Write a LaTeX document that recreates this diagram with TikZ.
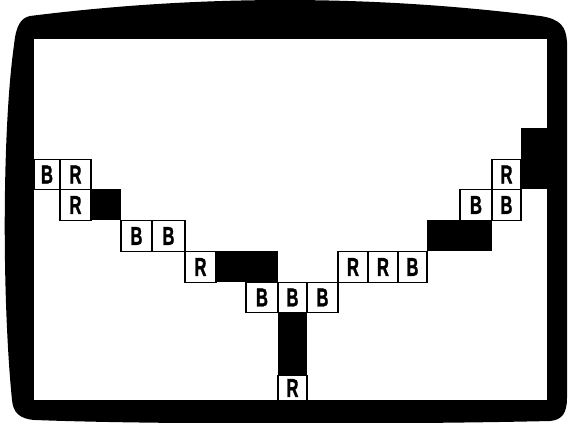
\documentclass[tikz,border=0pt]{standalone}
\usepackage{fontspec}
\setmainfont{Liberation Sans}
\newfontfamily\handfont{Liberation Sans}[BoldFeatures={FakeBold=1.5}]
\tikzset{
  cellbox/.style={draw=black, fill=white, line width=1.8pt, inner sep=0pt, outer sep=0pt,
    font=\handfont\bfseries\fontsize{26}{26}\selectfont},
  blk/.style={fill=black},
}
\newcommand\mycell[6]{\node[cellbox, minimum width={(#4-#2)*1pt}, minimum height={(#5-#3)*1pt}] (#1) at ({(#2+#4)/2},{(#3+#5)/2+0.5}) {\scalebox{0.64}[1]{#6}};}
\begin{document}
\begin{tikzpicture}[x=1pt,y=-1pt]
\useasboundingbox (0,0) rectangle (568,423);
% frame
\fill[black] (30,16) .. controls (200,-5.3) and (370,-5.3) .. (540,16)
  .. controls (561,19) and (566,27) .. (567,42)
  -- (567,398)
  .. controls (567,413) and (562,420) .. (550,421)
  .. controls (400,424.5) and (150,424.5) .. (35,420)
  .. controls (19,419) and (13,412) .. (12,400)
  .. controls (2,300) and (2,130) .. (14,45)
  .. controls (16,25) and (21,18) .. (30,16) -- cycle;
\fill[white] (34,39) rectangle (547,400);
% black blocks
\fill[blk] (91,189) rectangle (121,220);
\fill[blk] (216,251) rectangle (278,282);
\fill[blk] (278,312) rectangle (307,375);
\fill[blk] (427,220) rectangle (492,251);
\fill[blk] (521,128) rectangle (547,189);
% cells
\mycell{a1}{34}{159}{60}{189}{B}
\mycell{a2}{60}{159}{91}{189}{R}
\mycell{a3}{60}{189}{91}{220}{R}
\mycell{a4}{121}{220}{152}{251}{B}
\mycell{a5}{152}{220}{185}{251}{B}
\mycell{a6}{185}{251}{216}{282}{R}
\mycell{m1}{246}{282}{278}{312}{B}
\mycell{m2}{278}{282}{307}{312}{B}
\mycell{m3}{307}{282}{338}{312}{B}
\mycell{m4}{278}{375}{307}{400}{R}
\mycell{b1}{338}{251}{368}{282}{R}
\mycell{b2}{368}{251}{398}{282}{R}
\mycell{b3}{398}{251}{427}{282}{B}
\mycell{b4}{460}{189}{492}{220}{B}
\mycell{b5}{492}{189}{521}{220}{B}
\mycell{b6}{492}{159}{521}{189}{R}
% restore frame edges over cells
\fill[black] (12,150) rectangle (33.5,230);
\fill[black] (250,400.5) rectangle (330,420);
\end{tikzpicture}
\end{document}
